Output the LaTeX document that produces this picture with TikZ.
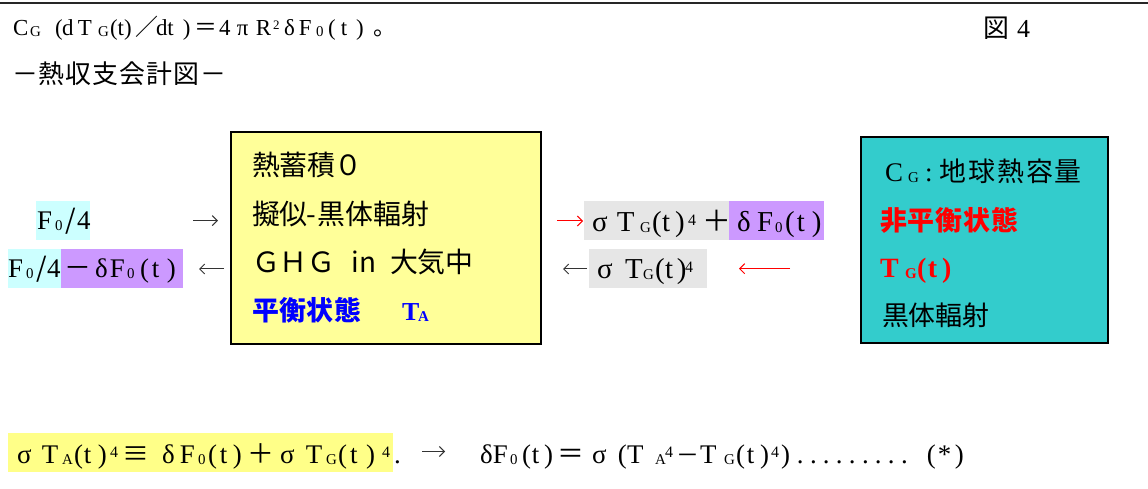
\documentclass[tikz,border=0pt]{standalone}
\usepackage{fontspec}
\setmainfont{Liberation Serif}
\newfontfamily\cjk{Noto Sans CJK JP}
\usetikzlibrary{arrows.meta}
\definecolor{ybox}{HTML}{FFFF99}
\definecolor{yhl}{HTML}{FFFF88}
\definecolor{cbox}{HTML}{33CCCC}
\definecolor{chl}{HTML}{CCFFFF}
\definecolor{phl}{HTML}{CC99FF}
\definecolor{ghl}{HTML}{E6E6E6}
\newcommand\subg[1]{\raisebox{-1bp}{\fontsize{15}{15}\selectfont #1}}
\newcommand\supg[1]{\raisebox{6bp}{\fontsize{16}{16}\selectfont #1}}
\newcommand\pc[2]{\makebox[#1bp][l]{#2}}
\newcommand\jp[1]{{\cjk #1}}
\newcommand\jpd{{\cjk\fontsize{23}{23}\selectfont －}}
\ExplSyntaxOn
\NewDocumentCommand\cells{mm}{\tl_map_inline:nn{#2}{\makebox[#1bp][l]{##1}}}
\ExplSyntaxOff
\tikzset{
  lt/.style={anchor=base west, inner sep=0pt, outer sep=0pt, font=\fontsize{#1}{30}\selectfont},
  lt/.default=27,
  jt/.style={anchor=base west, inner sep=0pt, outer sep=0pt, font=\cjk\fontsize{#1}{30}\selectfont},
  jt/.default=26,
  bigbox/.style={draw=black, line width=2bp, anchor=north west, inner sep=0pt},
  arr/.style={line width=1bp, -{Straight Barb[length=5bp,width=10bp]}},
}
\begin{document}
\begin{tikzpicture}[x=1bp,y=-1bp]
\useasboundingbox (0,0) rectangle (1148,489);
\draw[line width=2bp, black!85] (0,3) -- (1148,3);

% header
\node[lt=23] (l1) at (13,36) {\pc{17}{C}\pc{25}{\subg{G}}\pc{7}{(}\pc{16}{d}\pc{20}{T}\pc{12}{\subg{G}}\pc{25}{(t)}\pc{21}{\jp{／}}\pc{27}{dt}\pc{11}{)}\pc{25}{\jp{＝}}\pc{18}{4}\pc{19}{π}\pc{17}{R}\pc{11}{\raisebox{6bp}{\fontsize{13}{13}\selectfont 2}}\pc{15}{δ}\pc{17}{F}\pc{12}{\subg{0}}\pc{13}{(}\pc{15}{t}\pc{17}{)}\jp{。}};
\node[lt=26] (fig) at (983,38) {\pc{34}{\jp{図}}4};
\node[jt] (l2) at (12,84) {\cells{27}{－熱収支会計図－}};

% boxes
\node[bigbox, fill=ybox, minimum width=310.5bp, minimum height=211.5bp] (ybx) at (229.5,131.5) {};
\node[bigbox, fill=cbox, minimum width=247bp, minimum height=206bp] (cbx) at (860,135.7) {};

% yellow box text
\node[jt=28] (y1) at (252,176) {\cells{27.5}{熱蓄積０}};
\node[jt=28] (y2) at (252,225) {\cells{27}{擬似}\pc{12}{-}\cells{28}{黒体輻射}};
\node[jt=28] (y3) at (252,273) {\cells{28}{ＧＨＧ}\pc{54}{\hspace{16bp}in}\cells{28}{大気中}};
\node[jt=27, text=blue] (y4) at (252,321) {\bfseries\cells{27.5}{平衡状態}\hspace{40bp}{\rmfamily\fontsize{26}{30}\selectfont\pc{16}{T}\subg{A}}};

% cyan box text
\node[lt=27] (c1) at (885,182) {\pc{23}{C}\pc{17}{\subg{G}}\pc{14}{:}{\cjk\fontsize{27}{30}\selectfont\cells{29}{地球熱容量}}};
\node[jt=27, text=red] (c2) at (880,231) {\bfseries\cells{28}{非平衡状態}};
\node[lt=28, text=red] (c3) at (880,278) {\bfseries\pc{25}{T}\pc{12}{\subg{G}}\pc{11}{(}\pc{14}{t})};
\node[jt=27] (c4) at (882,326) {\cells{26.7}{黒体輻射}};

% left flux labels
\fill[chl] (36,201) rectangle (90,240);
\node[lt=27] (f1) at (37,230) {\pc{18}{F}\pc{10}{\subg{0}}\pc{12}{\jp{/}}4};
\fill[chl] (8,249) rectangle (61,288);
\fill[phl] (61,249) rectangle (183,288);
\node[lt=27] (f2) at (8,278) {\pc{18}{F}\pc{10}{\subg{0}}\pc{11}{\jp{/}}\pc{17}{4}\pc{31}{\jp{－}}\pc{15}{δ}\pc{17}{F}\pc{13}{\subg{0}}\pc{12}{(}\pc{15}{t})};

% right flux labels
\fill[ghl] (584,201) rectangle (729,240);
\fill[phl] (729,201) rectangle (824,240);
\node[lt=29] (r1) at (592,231.5) {\pc{25}{σ}\pc{23}{T}\pc{12}{\subg{G}}\pc{10}{(}\pc{13}{t}\pc{13}{)}\pc{14}{\supg{4}}\pc{35}{\jp{＋}}\pc{20}{δ}\pc{18}{F}\pc{10}{\subg{0}}\pc{12}{(}\pc{15}{t})};
\fill[ghl] (589,249) rectangle (707,288);
\node[lt=29] (r2) at (597,279) {\pc{28}{σ}\pc{18}{T}\pc{12}{\subg{G}}\pc{10}{(}\pc{12}{t}\pc{8}{)}\supg{4}};

% arrows
\coordinate (a1s) at (193,220.6); \coordinate (a1e) at (218,220.6);
\coordinate (a2s) at (224,269);   \coordinate (a2e) at (199,269);
\coordinate (a3s) at (557,221);   \coordinate (a3e) at (583,221);
\coordinate (a4s) at (587,269);   \coordinate (a4e) at (563,269);
\coordinate (a5s) at (790,268.7); \coordinate (a5e) at (739,268.7);
\coordinate (a6s) at (422,451.5); \coordinate (a6e) at (445,451.5);
\draw[arr, black!80] (a1s) -- (a1e);
\draw[arr, black!80] (a2s) -- (a2e);
\draw[arr, red] (a3s) -- (a3e);
\draw[arr, black!80] (a4s) -- (a4e);
\draw[arr, red] (a5s) -- (a5e);
\draw[arr, black!80] (a6s) -- (a6e);

% bottom equation
\fill[yhl] (8,433) rectangle (393,472);
\node[lt=27] (b1) at (17,463) {\pc{25}{σ}\pc{20}{T}\pc{12}{\subg{A}}\pc{10}{(}\pc{14}{t}\pc{12}{)}\pc{12}{\supg{4}}\pc{40}{\jp{≡}}\pc{18}{δ}\pc{18}{F}\pc{10}{\subg{0}}\pc{12}{(}\pc{13}{t}\pc{14}{)}\pc{33}{\jp{＋}}\pc{26}{σ}\pc{20}{T}\pc{12}{\subg{G}}\pc{12}{(}\pc{16}{t}\pc{16}{)}\pc{12}{\supg{4}}.};
\node[lt=27] (b2) at (480,463) {\pc{13}{δ}\pc{17}{F}\pc{12}{\subg{0}}\pc{10}{(}\pc{12}{t}\pc{13}{)}\pc{35}{\jp{＝}}\pc{26}{σ}\pc{9}{(}\pc{28}{T}\pc{10}{\subg{A}}\pc{11}{\supg{4}}\pc{24}{\jpd}\pc{24}{T}\pc{12}{\subg{G}}\pc{11}{(}\pc{13}{t}\pc{11}{)}\pc{10}{\supg{4}}\pc{16}{)}\pc{13}{.}\pc{13}{.}\pc{13}{.}\pc{13}{.}\pc{13}{.}\pc{13}{.}\pc{13}{.}\pc{13}{.}\pc{13}{.}\hspace{13bp}\pc{11}{(}\pc{17}{*})};
\end{tikzpicture}
\end{document}
